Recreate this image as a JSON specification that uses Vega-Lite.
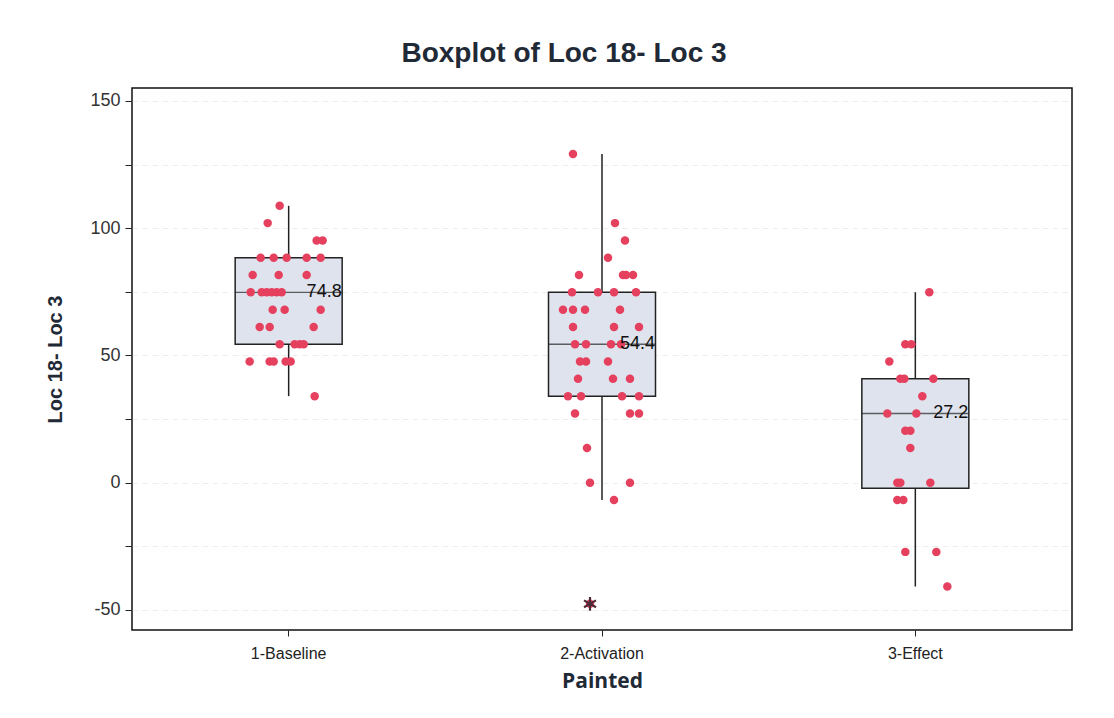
{
  "$schema": "https://vega.github.io/schema/vega-lite/v6.json",
  "autosize": {"type": "none"},
  "width": 940,
  "height": 542,
  "padding": {"left": 132, "top": 88, "right": 42, "bottom": 88},
  "background": "white",
  "config": {
    "view": {"stroke": "#111", "strokeWidth": 1.5},
    "font": "Liberation Sans"
  },
  "title": {
    "text": "Boxplot of Loc 18- Loc 3",
    "fontSize": 28,
    "fontWeight": "bold",
    "font": "Liberation Sans",
    "color": "#1f2a36",
    "anchor": "middle",
    "dx": -38,
    "offset": 20
  },
  "datasets": {
    "stats": [
      {"group": "1-Baseline", "lo": 34, "q1": 54.4, "med": 74.8, "q3": 88.4, "hi": 108.8},
      {"group": "2-Activation", "lo": -6.8, "q1": 34, "med": 54.4, "q3": 74.8, "hi": 129.2},
      {"group": "3-Effect", "lo": -40.8, "q1": -2.2, "med": 27.2, "q3": 40.8, "hi": 74.8}
    ],
    "outliers": [
      {"group": "2-Activation", "jitter": -12, "value": -47.6}
    ],
    "points": [
      {"group": "1-Baseline", "jitter": -9, "value": 108.8},
      {"group": "1-Baseline", "jitter": -21, "value": 102},
      {"group": "1-Baseline", "jitter": 28, "value": 95.2},
      {"group": "1-Baseline", "jitter": 34, "value": 95.2},
      {"group": "1-Baseline", "jitter": -28, "value": 88.4},
      {"group": "1-Baseline", "jitter": -15, "value": 88.4},
      {"group": "1-Baseline", "jitter": -2, "value": 88.4},
      {"group": "1-Baseline", "jitter": 18, "value": 88.4},
      {"group": "1-Baseline", "jitter": 32, "value": 88.4},
      {"group": "1-Baseline", "jitter": -36, "value": 81.6},
      {"group": "1-Baseline", "jitter": -10, "value": 81.6},
      {"group": "1-Baseline", "jitter": 18, "value": 81.6},
      {"group": "1-Baseline", "jitter": -38, "value": 74.8},
      {"group": "1-Baseline", "jitter": -27, "value": 74.8},
      {"group": "1-Baseline", "jitter": -22, "value": 74.8},
      {"group": "1-Baseline", "jitter": -17, "value": 74.8},
      {"group": "1-Baseline", "jitter": -12, "value": 74.8},
      {"group": "1-Baseline", "jitter": -7, "value": 74.8},
      {"group": "1-Baseline", "jitter": -16, "value": 68},
      {"group": "1-Baseline", "jitter": -4, "value": 68},
      {"group": "1-Baseline", "jitter": 32, "value": 68},
      {"group": "1-Baseline", "jitter": -29, "value": 61.2},
      {"group": "1-Baseline", "jitter": -19, "value": 61.2},
      {"group": "1-Baseline", "jitter": 25, "value": 61.2},
      {"group": "1-Baseline", "jitter": -9, "value": 54.4},
      {"group": "1-Baseline", "jitter": 6, "value": 54.4},
      {"group": "1-Baseline", "jitter": 11, "value": 54.4},
      {"group": "1-Baseline", "jitter": 15, "value": 54.4},
      {"group": "1-Baseline", "jitter": -39, "value": 47.6},
      {"group": "1-Baseline", "jitter": -19, "value": 47.6},
      {"group": "1-Baseline", "jitter": -15, "value": 47.6},
      {"group": "1-Baseline", "jitter": -3, "value": 47.6},
      {"group": "1-Baseline", "jitter": 2, "value": 47.6},
      {"group": "1-Baseline", "jitter": 26, "value": 34},

      {"group": "2-Activation", "jitter": -29, "value": 129.2},
      {"group": "2-Activation", "jitter": 13, "value": 102},
      {"group": "2-Activation", "jitter": 23, "value": 95.2},
      {"group": "2-Activation", "jitter": 6, "value": 88.4},
      {"group": "2-Activation", "jitter": -23, "value": 81.6},
      {"group": "2-Activation", "jitter": 21, "value": 81.6},
      {"group": "2-Activation", "jitter": 24, "value": 81.6},
      {"group": "2-Activation", "jitter": 31, "value": 81.6},
      {"group": "2-Activation", "jitter": -30, "value": 74.8},
      {"group": "2-Activation", "jitter": -4, "value": 74.8},
      {"group": "2-Activation", "jitter": 12, "value": 74.8},
      {"group": "2-Activation", "jitter": 34, "value": 74.8},
      {"group": "2-Activation", "jitter": -39, "value": 68},
      {"group": "2-Activation", "jitter": -29, "value": 68},
      {"group": "2-Activation", "jitter": -17, "value": 68},
      {"group": "2-Activation", "jitter": 18, "value": 68},
      {"group": "2-Activation", "jitter": -29, "value": 61.2},
      {"group": "2-Activation", "jitter": 12, "value": 61.2},
      {"group": "2-Activation", "jitter": 37, "value": 61.2},
      {"group": "2-Activation", "jitter": -27, "value": 54.4},
      {"group": "2-Activation", "jitter": -16, "value": 54.4},
      {"group": "2-Activation", "jitter": 9, "value": 54.4},
      {"group": "2-Activation", "jitter": 19, "value": 54.4},
      {"group": "2-Activation", "jitter": -22, "value": 47.6},
      {"group": "2-Activation", "jitter": -16, "value": 47.6},
      {"group": "2-Activation", "jitter": 6, "value": 47.6},
      {"group": "2-Activation", "jitter": -24, "value": 40.8},
      {"group": "2-Activation", "jitter": 11, "value": 40.8},
      {"group": "2-Activation", "jitter": 28, "value": 40.8},
      {"group": "2-Activation", "jitter": -34, "value": 34},
      {"group": "2-Activation", "jitter": -21, "value": 34},
      {"group": "2-Activation", "jitter": 20, "value": 34},
      {"group": "2-Activation", "jitter": 37, "value": 34},
      {"group": "2-Activation", "jitter": -27, "value": 27.2},
      {"group": "2-Activation", "jitter": 28, "value": 27.2},
      {"group": "2-Activation", "jitter": 37, "value": 27.2},
      {"group": "2-Activation", "jitter": -15, "value": 13.6},
      {"group": "2-Activation", "jitter": -12, "value": 0},
      {"group": "2-Activation", "jitter": 28, "value": 0},
      {"group": "2-Activation", "jitter": 12, "value": -6.8},
      {"group": "2-Activation", "jitter": -12, "value": -47.6},

      {"group": "3-Effect", "jitter": 14, "value": 74.8},
      {"group": "3-Effect", "jitter": -10, "value": 54.4},
      {"group": "3-Effect", "jitter": -4, "value": 54.4},
      {"group": "3-Effect", "jitter": -26, "value": 47.6},
      {"group": "3-Effect", "jitter": -15, "value": 40.8},
      {"group": "3-Effect", "jitter": -11, "value": 40.8},
      {"group": "3-Effect", "jitter": 18, "value": 40.8},
      {"group": "3-Effect", "jitter": 7, "value": 34},
      {"group": "3-Effect", "jitter": -28, "value": 27.2},
      {"group": "3-Effect", "jitter": 1, "value": 27.2},
      {"group": "3-Effect", "jitter": -10, "value": 20.4},
      {"group": "3-Effect", "jitter": -5, "value": 20.4},
      {"group": "3-Effect", "jitter": -5, "value": 13.6},
      {"group": "3-Effect", "jitter": -18, "value": 0},
      {"group": "3-Effect", "jitter": -15, "value": 0},
      {"group": "3-Effect", "jitter": 15, "value": 0},
      {"group": "3-Effect", "jitter": -18, "value": -6.8},
      {"group": "3-Effect", "jitter": -12, "value": -6.8},
      {"group": "3-Effect", "jitter": -10, "value": -27.2},
      {"group": "3-Effect", "jitter": 21, "value": -27.2},
      {"group": "3-Effect", "jitter": 32, "value": -40.8}
    ]
  },
  "encoding": {
    "x": {
      "field": "group",
      "type": "nominal",
      "scale": {"paddingInner": 0, "paddingOuter": 0},
      "axis": {
        "title": "Painted",
        "titleFontSize": 21,
        "titleFontWeight": "bold",
        "titleFont": "Open Sans",
        "titleColor": "#1f2a36",
        "titlePadding": 9,
        "labelAngle": 0,
        "labelFontSize": 16,
        "labelColor": "#222",
        "labelPadding": 9,
        "tickSize": 6,
        "tickColor": "#222",
        "domain": false,
        "grid": false
      }
    }
  },
  "layer": [
    {
      "data": {"name": "stats"},
      "mark": {"type": "rule", "color": "#222", "strokeWidth": 1.5},
      "encoding": {
        "y": {
          "field": "lo",
          "type": "quantitative",
          "scale": {"domain": [-57.9, 155.1], "nice": false, "zero": false},
          "axis": {
            "title": "Loc 18- Loc 3",
            "titleFontSize": 20,
            "titleFontWeight": "bold",
            "titleColor": "#1f2a36",
            "titlePadding": 24,
            "values": [-50, -25, 0, 25, 50, 75, 100, 125, 150],
            "labelExpr": "datum.value % 50 === 0 ? toString(datum.value) : ''",
            "labelFontSize": 18,
            "labelColor": "#333",
            "labelPadding": 5,
            "tickSize": 7,
            "tickColor": "#222",
            "domain": false,
            "grid": true,
            "gridColor": "#eeeeee",
            "gridDash": [6, 4]
          }
        },
        "y2": {"field": "hi"}
      }
    },
    {
      "data": {"name": "stats"},
      "mark": {"type": "bar", "fill": "#dfe3ed", "stroke": "#222", "strokeWidth": 1.5, "size": 107},
      "encoding": {
        "y": {"field": "q1", "type": "quantitative"},
        "y2": {"field": "q3"}
      }
    },
    {
      "data": {"name": "stats"},
      "mark": {"type": "tick", "color": "#222", "size": 107, "thickness": 1.4, "orient": "horizontal"},
      "encoding": {
        "y": {"field": "med", "type": "quantitative"}
      }
    },
    {
      "data": {"name": "points"},
      "mark": {"type": "circle", "color": "#e5415f", "size": 72, "opacity": 1},
      "encoding": {
        "xOffset": {"field": "jitter", "type": "quantitative", "scale": {"domain": [-156.7, 156.7]}},
        "y": {"field": "value", "type": "quantitative"}
      }
    },
    {
      "data": {"name": "outliers"},
      "mark": {
        "type": "point",
        "shape": "M0,-1L0,1M-0.87,-0.5L0.87,0.5M-0.87,0.5L0.87,-0.5",
        "stroke": "#4a2a36",
        "strokeWidth": 2.2,
        "size": 190,
        "filled": false,
        "opacity": 1
      },
      "encoding": {
        "xOffset": {"field": "jitter", "type": "quantitative", "scale": {"domain": [-156.7, 156.7]}},
        "y": {"field": "value", "type": "quantitative"}
      }
    },
    {
      "data": {"name": "stats"},
      "mark": {"type": "text", "align": "right", "baseline": "middle", "dx": 53, "fontSize": 18, "color": "#111"},
      "encoding": {
        "y": {"field": "med", "type": "quantitative"},
        "text": {"field": "med", "type": "quantitative", "format": ".1f"}
      }
    }
  ]
}
